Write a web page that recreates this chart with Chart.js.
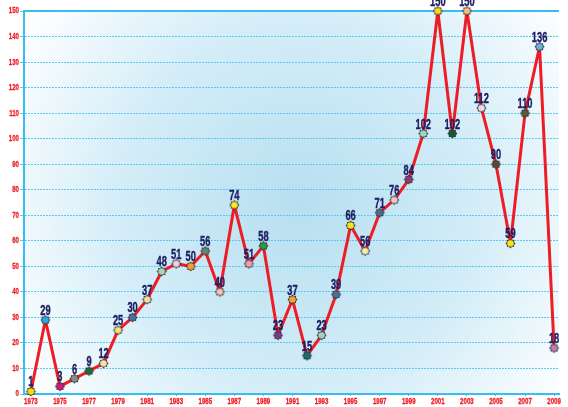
<!DOCTYPE html>
<html>
<head>
<meta charset="utf-8">
<script src="https://cdn.jsdelivr.net/npm/chart.js@4"></script>
<style>
  html, body { margin: 0; padding: 0; background: #ffffff; overflow: hidden; }
  #wrap { width: 568px; height: 407px; position: relative; }
</style>
</head>
<body>
<div id="wrap"><canvas id="c"></canvas></div>
<script>
// Yearly counts, 1973–2009
const years = [1973,1974,1975,1976,1977,1978,1979,1980,1981,1982,1983,1984,1985,1986,1987,1988,1989,1990,1991,1992,1993,1994,1995,1996,1997,1998,1999,2000,2001,2002,2003,2004,2005,2006,2007,2008,2009];
const counts = [1,29,3,6,9,12,25,30,37,48,51,50,56,40,74,51,58,23,37,15,23,39,66,56,71,76,84,102,150,102,150,112,90,59,110,136,18];
const markerColors = ['#f5e10a','#2aa8e0','#d4157f','#8c8c8c','#1c6b3a','#f7dfb0','#f2e37a','#4a6fa5','#f0e0a8','#a8d8b9','#f0d0e0','#f5a035','#5c8a7a','#f6c2b8','#f8ea1a','#f29ab9','#2e9a48','#7a3a8c','#f7a232','#136f7b','#9dd4c8','#4a6fa5','#f6e51a','#f7f0b0','#4c6c98','#f5c8c8','#8a3a7a','#9ad6c8','#f8d820','#125c34','#f8c080','#f0d8e8','#5a4a3a','#f7e01a','#5a5a3a','#6ab0e0','#b880b0'];
const xTickYears = [1973,1975,1977,1979,1981,1983,1985,1987,1989,1991,1993,1995,1997,1999,2001,2003,2005,2007,2009];
const yTickValues = [0,10,20,30,40,50,60,70,80,90,100,110,120,130,140,150];

const FONT = '"Liberation Sans", Arial, sans-serif';

// Small serrated marker drawn once per colour
function makeMarker(color) {
  const size = 13, c = document.createElement('canvas');
  c.width = size; c.height = size;
  const g = c.getContext('2d');
  const cx = size / 2, cy = size / 2, outer = 5.0, inner = 3.9, spikes = 8;
  g.beginPath();
  for (let i = 0; i < spikes * 2; i++) {
    const r = i % 2 === 0 ? outer : inner;
    const a = (Math.PI * i) / spikes - Math.PI / 2;
    const px = cx + r * Math.cos(a), py = cy + r * Math.sin(a);
    if (i === 0) g.moveTo(px, py); else g.lineTo(px, py);
  }
  g.closePath();
  g.fillStyle = '#3a3a3a';
  g.fill();
  g.beginPath();
  g.arc(cx, cy, 3.3, 0, Math.PI * 2);
  g.fillStyle = color;
  g.fill();
  return c;
}
const markers = markerColors.map(makeMarker);

// Condensed text helper: horizontally squeezed, optionally emboldened
function narrowText(ctx, text, x, y, sx, weightStroke) {
  ctx.save();
  ctx.translate(x, y);
  ctx.scale(sx, 1);
  ctx.fillText(text, 0, 0);
  if (weightStroke) {
    ctx.lineWidth = weightStroke;
    ctx.strokeStyle = ctx.fillStyle;
    ctx.strokeText(text, 0, 0);
  }
  ctx.restore();
}

// Soft radial blue wash behind the plot plus the solid top rule
const backdrop = {
  id: 'backdrop',
  beforeDraw(chart) {
    const { ctx, chartArea: a } = chart;
    ctx.save();
    const grad = ctx.createRadialGradient(300, 205, 0, 300, 205, 330);
    grad.addColorStop(0, '#b7dff0');
    grad.addColorStop(0.55, '#d4edf8');
    grad.addColorStop(1, '#ffffff');
    ctx.fillStyle = grad;
    ctx.fillRect(a.left, a.top, a.right - a.left, a.bottom - a.top);
    ctx.restore();
  },
  beforeDatasetsDraw(chart) {
    const { ctx, chartArea: a } = chart;
    ctx.save();
    ctx.strokeStyle = '#38bdf0';
    ctx.lineWidth = 2;
    ctx.beginPath();
    ctx.moveTo(a.left, a.top);
    ctx.lineTo(a.right, a.top);
    ctx.stroke();
    ctx.restore();
  }
};

// Axis tick labels in a narrow red face
const axisLabels = {
  id: 'axisLabels',
  afterDraw(chart) {
    const { ctx, scales: { x, y } } = chart;
    ctx.save();
    ctx.fillStyle = '#ee1c25';
    ctx.font = 'bold 9px ' + FONT;
    ctx.textBaseline = 'middle';
    ctx.textAlign = 'right';
    yTickValues.forEach(v => narrowText(ctx, String(v), 19, y.getPixelForValue(v), 0.68, 0.3));
    ctx.textAlign = 'center';
    xTickYears.forEach(v => narrowText(ctx, String(v), x.getPixelForValue(v), 402, 0.68, 0.3));
    ctx.restore();
  }
};

// Value labels above every marker
const valueLabels = {
  id: 'valueLabels',
  afterDatasetsDraw(chart) {
    const { ctx } = chart;
    const meta = chart.getDatasetMeta(0);
    ctx.save();
    ctx.fillStyle = '#1e2062';
    ctx.font = 'bold 15px ' + FONT;
    ctx.textAlign = 'center';
    ctx.textBaseline = 'alphabetic';
    meta.data.forEach((pt, i) => narrowText(ctx, String(counts[i]), pt.x, pt.y - 5, 0.62, 0.4));
    ctx.restore();
  }
};

new Chart(document.getElementById('c'), {
  type: 'line',
  data: {
    datasets: [{
      data: years.map((y, i) => ({ x: y, y: counts[i] })),
      borderColor: '#ee1c25',
      borderWidth: 3,
      borderJoinStyle: 'round',
      tension: 0,
      pointStyle: markers,
      pointRadius: 6,
      pointHoverRadius: 6,
      clip: false
    }]
  },
  options: {
    responsive: true,
    maintainAspectRatio: false,
    animation: false,
    events: [],
    layout: { padding: { top: 11, right: 0, bottom: 0, left: 0 } },
    plugins: { legend: { display: false }, tooltip: { enabled: false } },
    scales: {
      x: {
        type: 'linear',
        min: 1972.526,
        max: 2009.338,
        afterBuildTicks(s) { s.ticks = xTickYears.map(v => ({ value: v })); },
        afterFit(s) { s.height = 13; s.paddingLeft = 0; s.paddingRight = 0; },
        grid: { drawOnChartArea: false, drawTicks: true, tickLength: 2, color: '#38bdf0', lineWidth: 1 },
        border: { display: true, color: '#38bdf0', width: 2 },
        ticks: { display: false, autoSkip: false, maxRotation: 0 }
      },
      y: {
        min: 0,
        max: 150,
        afterBuildTicks(s) { s.ticks = yTickValues.map(v => ({ value: v })); },
        afterFit(s) { s.width = 24; s.paddingTop = 0; s.paddingBottom = 0; },
        grid: { color: '#5ccaf0', lineWidth: 1, tickLength: 4, drawTicks: true },
        border: { display: true, color: '#38bdf0', width: 2, dash: [2, 1] },
        ticks: { display: false }
      }
    }
  },
  plugins: [backdrop, axisLabels, valueLabels]
});
</script>
</body>
</html>
